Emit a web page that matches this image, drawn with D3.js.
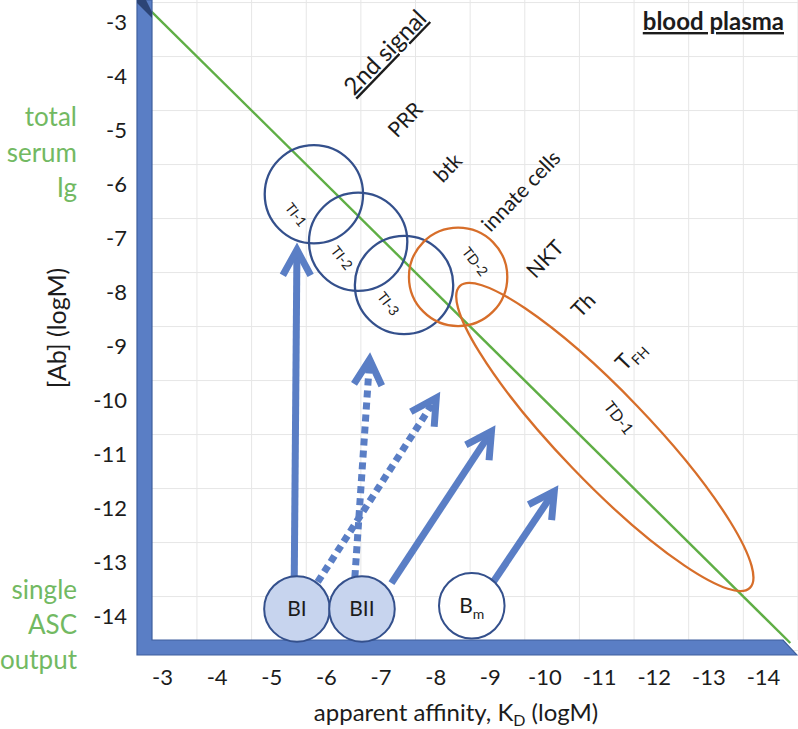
<!DOCTYPE html>
<html><head><meta charset="utf-8">
<script src="https://cdn.jsdelivr.net/npm/d3@7"></script>
<style>body{margin:0;background:#fff}svg{display:block}text{font-family:Lato,"Open Sans",sans-serif}</style>
</head><body>
<script>
// ---- data ----
const xTicks = [-3,-4,-5,-6,-7,-8,-9,-10,-11,-12,-13,-14];
const yTicks = [-3,-4,-5,-6,-7,-8,-9,-10,-11,-12,-13,-14];
const gridVals = [-2.64,-3.64,-4.64,-5.64,-6.64,-7.64,-8.64,-9.64,-10.64,-11.64,-12.64,-13.64,-14.64];
const diagonal = [[-2.6,-2.6],[-14.5,-14.5]];           // [Ab] = KD
const tiNames = ["TI-1","TI-2","TI-3"];
const tiKD = [-5.78,-6.59,-7.43];
const tiAb = [-6.19,-7.07,-7.87];
const tiLabelKD = [-5.45,-6.29,-7.14];
const tiLabelAb = [-6.57,-7.37,-8.22];
const td2KD = -8.42, td2Ab = -7.72, td2LabelKD = -8.73, td2LabelAb = -7.44;
const td1From = [-8.45,-7.89], td1To = [-13.76,-13.48], td1LabelKD = -11.36, td1LabelAb = -10.33;
const bNames = ["BI","BII","B"];
const bKD = [-5.47,-6.66,-8.67];
const bAb = [-13.87,-13.87,-13.81];
const arrowFromKD = [-5.42,-6.53,-5.85,-7.2,-9.05];
const arrowFromAb = [-13.35,-13.28,-13.37,-13.39,-13.39];
const arrowToKD   = [-5.47,-6.8,-8.02,-9.03,-10.18];
const arrowToAb   = [-7.22,-9.25,-9.96,-10.58,-11.69];
const arrowDotted = [false,true,true,false,false];
const signalNames = ["2nd signal","PRR","btk","innate cells","NKT","Th","T"];
const signalKD = [-7.08,-7.45,-8.23,-9.57,-10.01,-10.71,-11.57];
const signalAb = [-3.56,-4.81,-5.70,-6.13,-7.39,-8.24,-9.17];

// ---- setup ----
const W = 798, H = 729;
const svg = d3.select("body").append("svg").attr("width",W).attr("height",H);
const x = d3.scaleLinear().domain([-3,-14]).range([162,763]);
const y = d3.scaleLinear().domain([-3,-14]).range([22,616]);
const unit = x(-4) - x(-3);

const BLUE = "#5a7ec5", NAVY = "#34508c", ORANGE = "#d76e2a", GREEN = "#5fae45", GTEXT = "#72b962", INK = "#1c1c1c";
const barL = 137, barR = 152, barT = 640, barB = 655;

// grid
const g = svg.append("g");
g.selectAll("line.gx").data(gridVals).join("line")
  .attr("x1", d=>x(d)).attr("x2", d=>x(d)).attr("y1",0).attr("y2",barT)
  .attr("stroke","#e6e6e6").attr("stroke-width",1);
g.selectAll("line.gy").data(gridVals).join("line")
  .attr("y1", d=>y(d)).attr("y2", d=>y(d)).attr("x1",barR).attr("x2",W)
  .attr("stroke","#e6e6e6").attr("stroke-width",1);

// diagonal line
svg.append("line")
  .attr("x1",x(diagonal[0][0])).attr("y1",y(diagonal[0][1]))
  .attr("x2",x(diagonal[1][0])).attr("y2",y(diagonal[1][1]))
  .attr("stroke",GREEN).attr("stroke-width",2.4);

// axes bars
svg.append("path")
  .attr("d",`M${barL},0 L${barR},0 L${barR},${barT} L783,${barT} L797,${barB} L${barL},${barB} Z`)
  .attr("fill",BLUE).attr("stroke","#3e5f9e").attr("stroke-width",1.2);
svg.append("path").attr("d",`M${barL},0 L146,0 L${barR},12 L${barR},18 L${barL},3 Z`).attr("fill","#2c4476");

// axis labels
const axY = d3.axisLeft(y).tickValues(yTicks).tickSize(0).tickPadding(10).tickFormat(d=>String(d));
const gy = svg.append("g").attr("transform",`translate(${barL},0)`).call(axY);
gy.select(".domain").remove();
gy.selectAll("text").attr("font-size",22).attr("fill",INK).attr("font-family","Lato");
const axX = d3.axisBottom(x).tickValues(xTicks).tickSize(0).tickPadding(14).tickFormat(d=>String(d));
const gx = svg.append("g").attr("transform",`translate(0,${barB})`).call(axX);
gx.select(".domain").remove();
gx.selectAll("text").attr("font-size",22).attr("fill",INK).attr("font-family","Lato");

// axis titles
const xt = svg.append("text").attr("x",456).attr("y",721).attr("text-anchor","middle")
  .attr("font-size",24).attr("fill",INK);
xt.append("tspan").text("apparent affinity, K");
xt.append("tspan").attr("font-size",16).attr("dy",5).text("D");
xt.append("tspan").attr("dy",-5).text(" (logM)");
svg.append("text").attr("transform","translate(66,328) rotate(-90)").attr("text-anchor","middle")
  .attr("font-size",25).attr("fill",INK).text("[Ab] (logM)");

// green side texts
[["total",117],["serum",153],["Ig",188],["single",590],["ASC",625],["output",660]].forEach(([t,yy])=>{
  svg.append("text").attr("x",77).attr("y",yy).attr("dy","0.35em").attr("text-anchor","end")
    .attr("font-size",26).attr("fill",GTEXT).text(t);
});

// blood plasma
svg.append("text").attr("x",784).attr("y",30).attr("text-anchor","end").attr("font-size",24)
  .attr("font-weight","bold").attr("fill",INK).attr("text-decoration","underline").text("blood plasma");

// TI circles
tiNames.forEach((n,i)=>{
  svg.append("circle").attr("cx",x(tiKD[i])).attr("cy",y(tiAb[i])).attr("r",0.9*unit)
    .attr("fill","none").attr("stroke",NAVY).attr("stroke-width",2.3);
});
// TD-2
svg.append("circle").attr("cx",x(td2KD)).attr("cy",y(td2Ab)).attr("r",0.9*unit)
  .attr("fill","none").attr("stroke",ORANGE).attr("stroke-width",2.3);
// TD-1 ellipse
{
  const x1=x(td1From[0]), y1=y(td1From[1]), x2=x(td1To[0]), y2=y(td1To[1]);
  const cx=(x1+x2)/2, cy=(y1+y2)/2, rx=Math.hypot(x2-x1,y2-y1)/2, ang=Math.atan2(y2-y1,x2-x1)*180/Math.PI;
  svg.append("ellipse").attr("cx",0).attr("cy",0).attr("rx",rx).attr("ry",0.82*unit)
    .attr("transform",`translate(${cx},${cy}) rotate(${ang})`)
    .attr("fill","none").attr("stroke",ORANGE).attr("stroke-width",2.3);
}
// small rotated labels
const small = tiNames.map((n,i)=>[n,tiLabelKD[i],tiLabelAb[i],14]).concat([["TD-2",td2LabelKD,td2LabelAb,14],["TD-1",td1LabelKD,td1LabelAb,16]]);
small.forEach(([t,kx,ky,fs])=>{
  svg.append("text").attr("transform",`translate(${x(kx)},${y(ky)}) rotate(52)`)
    .attr("text-anchor","middle").attr("dy","0.35em").attr("font-size",fs).attr("fill",INK).text(t);
});

// signal labels
const signalSize = [24,21,21,21,21,21,22];
signalNames.forEach((t,i)=>{
  const tx = svg.append("text").attr("transform",`translate(${x(signalKD[i])},${y(signalAb[i])}) rotate(-46)`)
    .attr("text-anchor","middle").attr("dy","0.35em").attr("font-size",signalSize[i]).attr("fill",INK);
  if(i===0) tx.attr("text-decoration","underline");
  tx.append("tspan").text(t);
  if(t==="T"){ tx.append("tspan").attr("font-size",14).attr("dy",5).text("FH"); }
});

// arrows
arrowFromKD.forEach((_,i)=>{
  const x1=x(arrowFromKD[i]), y1=y(arrowFromAb[i]), x2=x(arrowToKD[i]), y2=y(arrowToAb[i]);
  const a=Math.atan2(y2-y1,x2-x1);
  svg.append("line").attr("x1",x1).attr("y1",y1).attr("x2",x2-Math.cos(a)*3).attr("y2",y2-Math.sin(a)*3)
    .attr("stroke",BLUE).attr("stroke-width",7)
    .attr("stroke-dasharray",arrowDotted[i]?"7 5":null);
  const L=29, h=0.5;
  const p1=[x2-L*Math.cos(a-h), y2-L*Math.sin(a-h)], p2=[x2-L*Math.cos(a+h), y2-L*Math.sin(a+h)];
  svg.append("path").attr("d",`M${p1} L${x2},${y2} L${p2}`).attr("fill","none")
    .attr("stroke",BLUE).attr("stroke-width",7).attr("stroke-linejoin","miter");
});

// B circles
bNames.forEach((n,i)=>{
  svg.append("circle").attr("cx",x(bKD[i])).attr("cy",y(bAb[i])).attr("r",0.6*unit)
    .attr("fill", i<2 ? "#c7d4ee" : "#fff").attr("stroke",NAVY).attr("stroke-width",2);
  const t = svg.append("text").attr("x",x(bKD[i])).attr("y",y(bAb[i])).attr("dy","0.35em")
    .attr("text-anchor","middle").attr("font-size",21).attr("fill",INK);
  t.append("tspan").text(n);
  if(n==="B"){ t.append("tspan").attr("font-size",14).attr("dy",6).text("m"); }
});
</script>
</body></html>
